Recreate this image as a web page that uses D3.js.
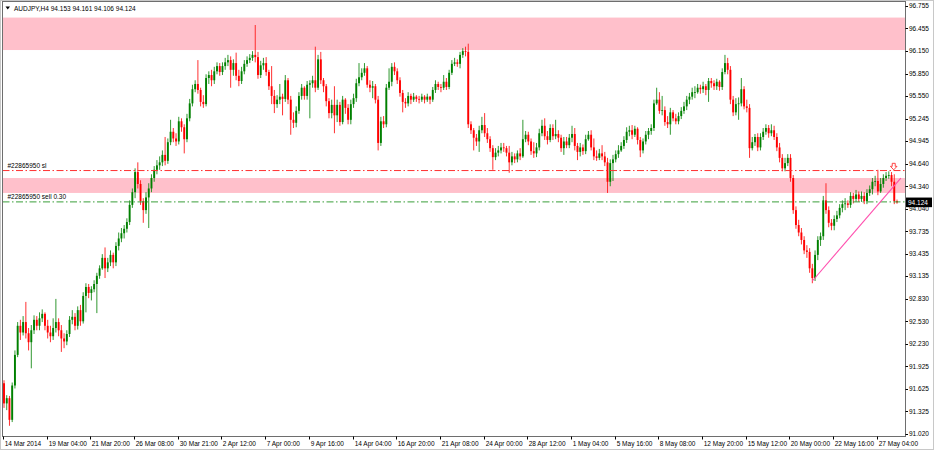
<!DOCTYPE html>
<html><head><meta charset="utf-8">
<script src="https://cdn.jsdelivr.net/npm/d3@7"></script>
<style>html,body{margin:0;padding:0;background:#fff;}svg{display:block;font-family:"Liberation Sans",Arial,sans-serif;}</style>
</head><body><svg id="c" width="934" height="450"></svg>
<script>
const symbolName = "AUDJPY,H4";
const lastBarOHLC = ["94.153", "94.161", "94.106", "94.124"];
const firstOpen = 91.70;
const closes = [
91.43,91.50,91.21,91.67,92.08,92.47,92.38,92.52,92.37,92.25,
92.41,92.55,92.47,92.57,92.63,92.47,92.38,92.33,92.44,92.52,
92.41,92.30,92.26,92.36,92.55,92.59,92.47,92.68,92.53,92.87,
92.99,92.91,92.96,93.03,93.14,93.24,93.38,93.24,93.32,93.42,
93.32,93.54,93.64,93.71,93.77,93.86,94.09,94.26,94.53,94.37,
94.14,94.02,94.19,94.31,94.45,94.56,94.62,94.66,94.76,94.68,
94.93,95.07,94.98,94.94,95.21,95.13,94.97,95.25,95.45,95.64,
95.71,95.63,95.47,95.44,95.79,95.83,95.76,95.88,95.95,95.87,
95.95,96.00,96.03,95.90,95.99,95.82,95.75,95.88,95.98,96.03,
96.06,96.10,96.07,95.83,95.96,95.99,95.87,95.68,95.55,95.44,
95.50,95.54,95.51,95.76,95.50,95.23,95.19,95.35,95.55,95.66,
95.55,95.70,95.72,95.76,95.66,96.04,95.76,95.68,95.48,95.32,
95.43,95.29,95.43,95.20,95.50,95.39,95.23,95.44,95.52,95.72,
95.80,95.86,95.92,95.70,95.66,95.68,95.50,94.92,95.21,95.17,
95.66,95.74,95.94,95.88,95.76,95.59,95.47,95.45,95.55,95.50,
95.54,95.51,95.50,95.54,95.50,95.54,95.50,95.63,95.71,95.67,
95.66,95.74,95.67,95.86,95.98,96.00,95.98,96.10,96.15,96.14,
95.17,95.09,94.99,94.94,95.09,95.16,95.05,94.97,94.85,94.73,
94.79,94.82,94.86,94.85,94.79,94.66,94.74,94.70,94.78,94.74,
94.97,95.03,94.94,94.81,94.78,94.86,95.05,95.15,95.01,94.96,
95.12,95.01,95.04,94.99,94.85,94.94,94.89,94.99,95.04,94.88,
94.80,94.86,94.81,94.97,95.03,94.86,94.74,94.72,94.78,94.74,
94.66,94.40,94.65,94.70,94.77,94.82,94.88,94.96,95.07,95.09,
95.03,95.11,94.96,94.82,94.94,95.03,95.08,95.12,95.45,95.50,
95.35,95.36,95.20,95.17,95.33,95.25,95.21,95.28,95.35,95.41,
95.50,95.54,95.60,95.60,95.66,95.64,95.68,95.63,95.75,95.72,
95.68,95.74,95.67,95.87,95.99,95.90,95.50,95.33,95.44,95.45,
95.64,95.41,95.39,94.85,94.93,95.00,94.86,95.00,95.07,95.12,
95.05,95.09,95.00,94.86,94.72,94.58,94.65,94.72,94.45,94.02,
93.82,93.72,93.62,93.48,93.46,93.24,93.11,93.42,93.62,93.67,
94.15,94.02,93.85,93.81,93.90,93.95,94.05,94.10,94.11,94.09,
94.21,94.17,94.23,94.17,94.21,94.14,94.25,94.30,94.40,94.41,
94.27,94.37,94.45,94.48,94.49,94.40,94.14,94.124];
const highs = [
91.74,91.54,91.53,91.71,92.14,92.52,92.55,92.60,92.79,92.44,
92.48,92.61,92.60,92.65,92.69,92.65,92.55,92.47,92.57,92.83,
92.57,92.48,92.37,92.41,92.60,92.68,92.64,92.73,92.75,92.92,
93.04,93.03,93.00,93.08,93.18,93.28,93.43,93.52,93.38,93.48,
93.45,93.59,93.72,93.78,93.82,93.91,94.15,94.31,94.58,94.66,
94.42,94.18,94.26,94.38,94.50,94.61,94.69,94.74,94.82,95.00,
94.98,95.23,95.12,95.05,95.27,95.25,95.17,95.31,95.51,95.70,
95.76,96.03,95.66,95.56,95.84,95.88,95.90,95.94,96.00,95.99,
96.00,96.06,96.10,96.08,96.04,96.13,95.90,95.94,96.03,96.08,
96.11,96.15,96.50,96.14,96.02,96.06,96.07,95.90,95.95,95.63,
95.56,95.71,95.58,95.83,95.79,95.55,95.33,95.41,95.60,95.71,
95.68,95.75,95.76,95.82,96.21,96.10,96.14,95.79,95.71,95.52,
95.50,95.68,95.50,95.47,95.55,95.52,95.44,95.50,95.58,95.78,
95.99,95.92,95.99,95.95,95.76,95.75,95.71,95.55,95.27,95.28,
95.71,95.92,95.99,96.00,95.92,95.80,95.63,95.52,95.60,95.58,
95.59,95.56,95.55,95.58,95.56,95.58,95.55,95.67,95.76,95.74,
95.71,95.83,95.79,95.90,96.03,96.06,96.04,96.14,96.19,96.21,
96.25,95.21,95.12,95.04,95.15,95.27,95.32,95.12,95.01,94.89,
94.85,94.88,94.92,94.92,94.88,94.88,94.80,94.78,94.82,94.85,
95.23,95.08,95.07,94.98,94.93,94.92,95.11,95.23,95.25,95.08,
95.17,95.17,95.23,95.09,95.03,95.00,95.00,95.04,95.15,95.12,
94.92,94.92,94.90,95.03,95.08,95.09,94.98,94.82,94.84,94.89,
94.80,94.72,94.70,94.76,94.82,94.89,94.93,95.01,95.13,95.15,
95.16,95.15,95.13,95.00,94.98,95.08,95.12,95.17,95.50,95.66,
95.60,95.55,95.41,95.28,95.39,95.36,95.31,95.33,95.40,95.47,
95.55,95.59,95.66,95.68,95.71,95.70,95.74,95.71,95.79,95.79,
95.76,95.78,95.76,95.92,96.10,96.06,95.95,95.55,95.52,95.53,
95.79,95.68,95.50,95.44,95.00,95.04,95.05,95.05,95.12,95.17,
95.16,95.17,95.15,95.05,94.92,94.77,94.72,94.77,94.77,94.49,
94.07,93.89,93.78,93.67,93.55,93.51,93.30,93.48,93.67,93.72,
94.21,94.38,94.07,93.90,93.95,94.01,94.10,94.15,94.18,94.15,
94.26,94.25,94.29,94.27,94.27,94.26,94.30,94.35,94.45,94.48,
94.56,94.45,94.50,94.53,94.54,94.53,94.50,94.161];
const lows = [
91.37,91.34,91.13,91.18,91.63,92.05,92.28,92.34,92.30,92.14,
91.90,92.36,92.41,92.41,92.52,92.41,92.30,92.25,92.28,92.38,
92.33,92.12,92.17,92.21,92.32,92.49,92.41,92.42,92.47,92.50,
92.65,92.84,92.81,92.92,92.64,93.10,93.22,93.11,93.19,93.27,
93.24,93.27,93.48,93.59,93.64,93.72,93.82,94.05,94.18,94.31,
94.09,93.85,93.97,93.78,94.26,94.40,94.50,94.56,94.61,94.62,
94.64,94.89,94.93,94.88,94.90,95.07,94.78,94.93,95.21,95.41,
95.60,95.58,95.41,95.39,95.41,95.71,95.68,95.71,95.84,95.82,
95.83,95.90,95.95,95.66,95.82,95.76,95.68,95.71,95.84,95.94,
95.99,96.02,96.00,95.78,95.79,95.90,95.82,95.63,95.44,95.32,
95.39,95.44,95.29,95.47,95.44,95.03,95.12,95.13,95.31,95.50,
95.50,95.50,95.25,95.66,95.60,95.63,95.71,95.60,95.41,95.25,
95.25,95.05,95.20,95.15,95.17,95.31,95.17,95.17,95.39,95.47,
95.68,95.76,95.82,95.66,95.60,95.52,95.45,94.82,94.88,95.12,
95.13,95.63,95.68,95.83,95.71,95.54,95.33,95.39,95.41,95.44,
95.47,95.47,95.45,95.47,95.45,95.47,95.44,95.47,95.59,95.63,
95.60,95.63,95.63,95.64,95.83,95.95,95.94,95.92,96.06,96.08,
95.12,95.04,94.82,94.88,94.80,95.05,95.00,94.92,94.80,94.56,
94.69,94.74,94.78,94.80,94.74,94.52,94.62,94.65,94.66,94.69,
94.72,94.93,94.89,94.76,94.72,94.73,94.82,95.01,94.96,94.90,
94.93,94.96,94.97,94.93,94.80,94.76,94.85,94.85,94.93,94.82,
94.69,94.74,94.76,94.77,94.95,94.82,94.69,94.68,94.69,94.69,
94.61,94.25,94.34,94.41,94.66,94.72,94.80,94.84,94.92,95.01,
94.97,95.00,94.90,94.73,94.78,94.90,94.97,95.03,95.08,95.43,
95.31,95.29,95.15,95.12,95.03,95.21,95.17,95.17,95.24,95.31,
95.36,95.44,95.50,95.52,95.58,95.58,95.59,95.56,95.47,95.66,
95.63,95.63,95.62,95.63,95.84,95.84,95.44,95.28,95.29,95.23,
95.41,95.37,95.33,94.72,94.82,94.88,94.81,94.82,94.96,95.03,
94.99,95.01,94.96,94.81,94.66,94.54,94.54,94.61,94.40,93.97,
93.77,93.67,93.56,93.43,93.38,93.18,93.04,93.07,93.35,93.54,
93.62,93.97,93.79,93.75,93.75,93.86,93.91,93.99,94.02,94.05,
94.05,94.11,94.13,94.13,94.13,94.10,94.10,94.21,94.23,94.34,
94.22,94.25,94.32,94.41,94.44,94.34,94.10,94.106];
const timeLabels = ["14 Mar 2014","19 Mar 04:00","21 Mar 20:00","26 Mar 08:00","30 Mar 21:00","2 Apr 12:00","7 Apr 00:00","9 Apr 16:00","14 Apr 04:00","16 Apr 20:00","21 Apr 08:00","24 Apr 00:00","28 Apr 12:00","1 May 04:00","5 May 16:00","8 May 08:00","12 May 20:00","15 May 12:00","20 May 00:00","22 May 16:00","27 May 04:00"];
const barsPerLabel = 16;
const priceTicks = [96.755,96.455,96.150,95.850,95.550,95.245,94.945,94.640,94.340,94.040,93.735,93.435,93.135,92.830,92.530,92.230,91.925,91.625,91.325,91.020];
const zoneLows = [96.165, 94.25];
const zoneHighs = [96.60, 94.45];
const orderLabels = ["#22865950 sl", "#22865950 sell 0.30"];
const orderPrices = [94.55, 94.13];
const trendBars = [296, 328.4];
const trendPrices = [93.07, 94.45];
const arrowBar = 325.8, arrowPrice = 94.60;
const lastPrice = 94.124;

const svg = d3.select("#c");
const L = 2.5, R = 905.5, T = 1.5, B = 436.5;
const x = d3.scaleLinear().domain([0, 327]).range([4, 897]);
const y = d3.scaleLinear().domain([91.02, 96.755]).range([434, 6]);
const fs = 6.5;

svg.append("rect").attr("x",0.5).attr("y",0.5).attr("width",933).attr("height",449).attr("fill","#fff").attr("stroke","#c8c8c8");
svg.append("defs").append("clipPath").attr("id","cl").append("rect").attr("x",L).attr("y",T).attr("width",R-L).attr("height",B-T);
const g = svg.append("g").attr("clip-path","url(#cl)");

// zones
zoneLows.forEach((lo,k)=>{
  g.append("rect").attr("x",L).attr("width",R-L).attr("y",y(zoneHighs[k])).attr("height",y(lo)-y(zoneHighs[k])).attr("fill","#ffc0cb");
});

// candles
const bars = closes.map((c,i)=>({i, o: i===0?firstOpen:closes[i-1], h: highs[i], l: lows[i], c}));
const up = d => d.c >= d.o;
g.append("g").selectAll("line").data(bars).join("line")
  .attr("x1",d=>x(d.i)).attr("x2",d=>x(d.i)).attr("y1",d=>y(d.h)).attr("y2",d=>y(d.l))
  .attr("stroke",d=>up(d)?"#1a8c1a":"#ff1a1a").attr("stroke-width",0.9);
g.append("g").selectAll("rect").data(bars).join("rect")
  .attr("x",d=>x(d.i)-0.95).attr("width",1.9)
  .attr("y",d=>y(Math.max(d.o,d.c))).attr("height",d=>Math.max(0.8,Math.abs(y(d.o)-y(d.c))))
  .attr("fill",d=>up(d)?"#008000":"#ff0000");

// order lines
const ocol = ["#ff3030","#3a9e3a"];
orderPrices.forEach((p,k)=>{
  g.append("line").attr("x1",L).attr("x2",R).attr("y1",y(p)).attr("y2",y(p))
   .attr("stroke",ocol[k]).attr("stroke-width",1).attr("stroke-dasharray","7,2.5,1.5,2.5");
  g.append("text").attr("x",7.5).attr("y",y(p)-3).attr("font-size",fs).attr("fill","#000").text(orderLabels[k]);
});

// trend line
g.append("line").attr("x1",x(trendBars[0])).attr("y1",y(trendPrices[0])).attr("x2",x(trendBars[1])).attr("y2",y(trendPrices[1]))
 .attr("stroke","#ff4fae").attr("stroke-width",1.1);

// sell arrow marker
const ax = x(arrowBar), ay = y(arrowPrice);
g.append("path").attr("d",`M${ax-1.5},${ay-3.5}h3v3h1.8l-3.3,3.5l-3.3,-3.5h1.8z`).attr("fill","#fff").attr("stroke","#ff3030").attr("stroke-width",0.9);

// frame
svg.append("rect").attr("x",L).attr("y",T).attr("width",R-L).attr("height",B-T).attr("fill","none").attr("stroke","#6e6e6e");

// header
svg.append("path").attr("d","M5.5,6.5h4.5l-2.25,3z").attr("fill","#000");
svg.append("text").attr("x",14).attr("y",10.8).attr("font-size",fs).attr("fill","#000")
  .text(symbolName + "  " + lastBarOHLC.join(" "));

// price axis
const ya = svg.append("g");
priceTicks.forEach(p=>{
  ya.append("line").attr("x1",R).attr("x2",R+2.5).attr("y1",Math.round(y(p))+0.5).attr("y2",Math.round(y(p))+0.5).attr("stroke","#000");
  ya.append("text").attr("x",909).attr("y",y(p)+2.3).attr("font-size",fs).attr("fill","#000").text(p.toFixed(3));
});
ya.append("rect").attr("x",906).attr("y",y(lastPrice)-4.8).attr("width",26).attr("height",9.6).attr("fill","#000");
ya.append("text").attr("x",908).attr("y",y(lastPrice)+2.3).attr("font-size",fs).attr("fill","#fff").text(lastPrice.toFixed(3));

// time axis
const xa = svg.append("g");
timeLabels.forEach((t,k)=>{
  const px = Math.round(x(k*barsPerLabel)) - 0.5;
  xa.append("line").attr("x1",px).attr("x2",px).attr("y1",B).attr("y2",B+3).attr("stroke","#000");
  xa.append("text").attr("x",px+1.2).attr("y",445.8).attr("font-size",fs).attr("fill","#000").text(t);
});
</script></body></html>
